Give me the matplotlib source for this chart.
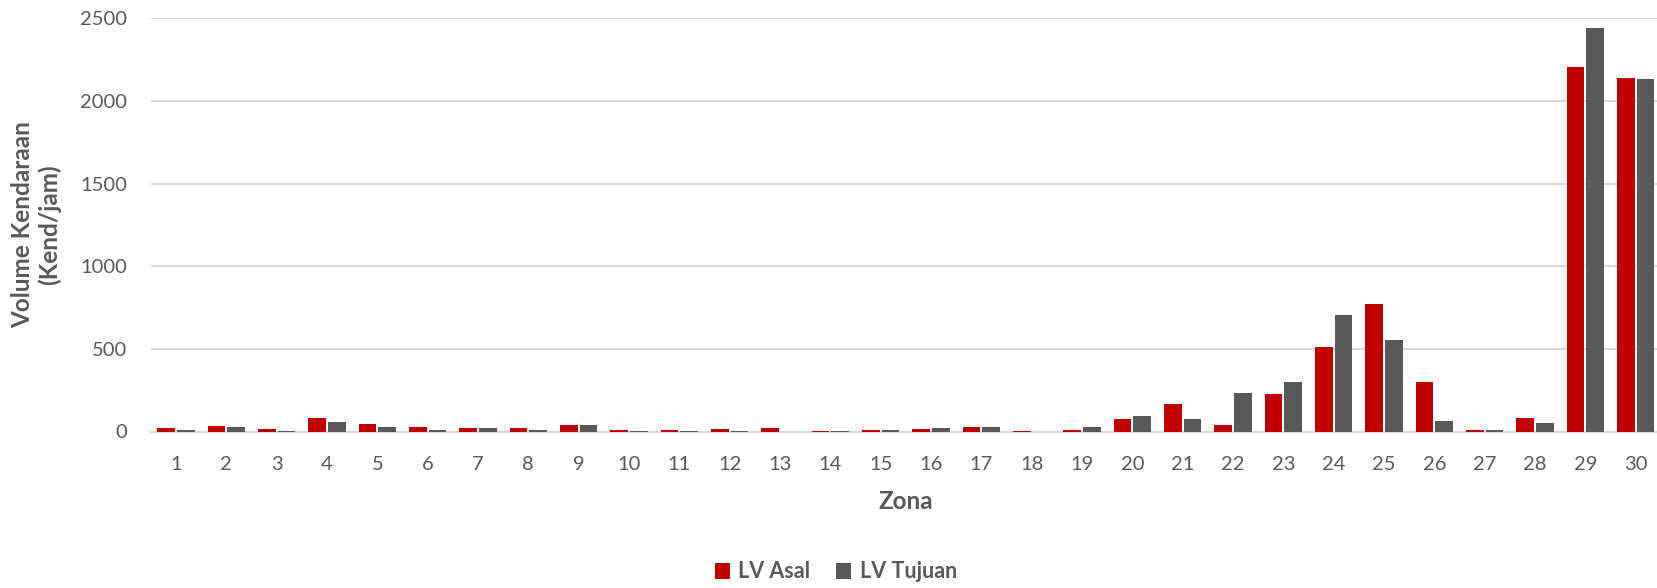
import matplotlib
matplotlib.use("Agg")
import matplotlib.pyplot as plt
import numpy as np

zona = [str(i) for i in range(1, 31)]
lv_asal = [22, 33, 16, 81, 45, 30, 24, 24, 41, 12,
           12, 18, 22, 6, 10, 18, 30, 1, 9, 73,
           169, 41, 226, 512, 772, 299, 12, 79, 2204, 2138]
lv_tujuan = [12, 26, 2, 59, 30, 12, 20, 8, 37, 6,
             6, 6, 0, 6, 12, 20, 28, 0, 25, 93,
             73, 232, 299, 707, 553, 61, 12, 53, 2440, 2132]
yticks = [0, 500, 1000, 1500, 2000, 2500]

RED = "#C00000"
GRAY = "#595959"
TXT = "#595959"

plt.rcParams["font.family"] = ["Lato", "DejaVu Sans"]

fig = plt.figure(figsize=(16.57, 5.88), dpi=100)
ax = fig.add_axes([150.8 / 1657, 156.5 / 588, 1510 / 1657, 413.2 / 588])

x = np.arange(len(zona))
w = 0.35
ax.bar(x - 0.195, lv_asal, w, color=RED, label="LV Asal", zorder=3)
ax.bar(x + 0.195, lv_tujuan, w, color=GRAY, label="LV Tujuan", zorder=3)

ax.set_xlim(-0.5, len(zona) - 0.5)
ax.set_ylim(0, 2500)
ax.set_yticks(yticks)
ax.set_xticks(x)
ax.set_xticklabels(zona)
ax.yaxis.grid(True, color="#D9D9D9", linewidth=1.5, zorder=0)
ax.set_axisbelow(True)
for s in ["top", "right", "left"]:
    ax.spines[s].set_visible(False)
ax.spines["bottom"].set_color("#D9D9D9")
ax.spines["bottom"].set_linewidth(1.5)
ax.tick_params(axis="both", length=0, labelsize=14.5, labelcolor=TXT)
ax.tick_params(axis="y", pad=17)
ax.tick_params(axis="x", pad=18)

ax.set_ylabel("Volume Kendaraan\n(Kend/jam)", fontsize=17.5, fontweight="bold",
              color=TXT, labelpad=14, linespacing=1.15)
ax.set_xlabel("Zona", fontsize=17.5, fontweight="bold", color=TXT, labelpad=12)

fig.legend(loc="center", bbox_to_anchor=(836 / 1657, 1 - 572 / 588), ncol=2,
           frameon=False, prop={"size": 15.5, "weight": "bold"},
           labelcolor=TXT, handlelength=0.7, handleheight=0.7,
           handletextpad=0.4, columnspacing=1.2)

fig.savefig("out.png", dpi=100)
